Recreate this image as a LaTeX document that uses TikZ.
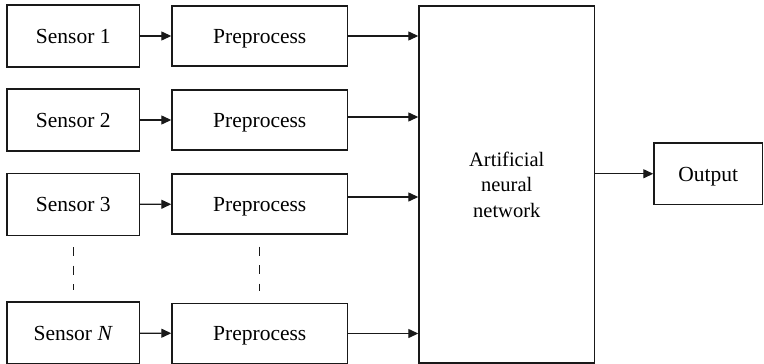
\documentclass[tikz,border=0pt]{standalone}
\usepackage{fontspec}
\setmainfont{Liberation Serif}
\usetikzlibrary{arrows.meta,calc}
\tikzset{
  box/.style={draw=black!90, line width=1.4pt, fill=white, inner sep=0pt,
    font=\fontsize{21.5}{25}\selectfont, align=center},
  oneline/.style={box, text height=14.5pt, text depth=0pt},
  sensorbox/.style={oneline, minimum width=132.5pt, minimum height=62pt},
  prebox/.style={oneline, minimum width=175.5pt, minimum height=60pt},
  link/.style={draw=black!90, line width=1.3pt, -{Triangle[length=10pt,width=9pt]}},
  dots/.style={draw=black!90, line width=1.3pt, dash pattern=on 9pt off 9.5pt}
}
\begin{document}
\begin{tikzpicture}[x=1pt,y=-1pt]
\useasboundingbox (0,0) rectangle (764,364);

% sensors
\node[sensorbox] (s1) at (73.25,36) {Sensor 1};
\node[sensorbox] (s2) at (73.25,120) {Sensor 2};
\node[sensorbox] (s3) at (73.25,204.5) {Sensor 3};
\node[sensorbox] (sn) at (73.25,333) {Sensor \textit{N}};

% preprocessing stages
\node[prebox] (p1) at (259.75,36) {Preprocess};
\node[prebox] (p2) at (259.75,120) {Preprocess};
\node[prebox] (p3) at (259.75,204) {Preprocess};
\node[prebox] (pn) at (259.75,333.5) {Preprocess};

% network and output
\node[box, minimum width=175.5pt, minimum height=357pt, font=\fontsize{20.5}{25.5}\selectfont] (ann) at (506.75,184.5) {Artificial\\neural\\network};
\node[oneline, minimum width=108.5pt, minimum height=61.5pt] (out) at (708.25,173.75) {Output};

% sensor to preprocess
\draw[link] (s1) -- (p1);
\draw[link] (s2) -- (p2);
\draw[link] (s3) -- (p3);
\draw[link] (sn) -- (pn);

% preprocess to network
\draw[link] (p1.east) -- (p1.east -| ann.west);
\draw[link] ([yshift=3pt]p2.east) -- ([yshift=3pt]p2.east -| ann.west);
\draw[link] ([yshift=7pt]p3.east) -- ([yshift=7pt]p3.east -| ann.west);
\draw[link] (pn.east) -- (pn.east -| ann.west);

% network to output
\draw[link] (out.west -| ann.east) -- (out.west);

% omitted rows
\coordinate (ds1) at ($(s3.south)+(0,11)$);
\coordinate (ds2) at ($(sn.north)+(0,-11)$);
\coordinate (dp1) at ($(p3.south)+(0,12)$);
\coordinate (dp2) at ($(pn.north)+(0,-12)$);
\draw[dots] (ds1) -- (ds2);
\draw[dots] (dp1) -- (dp2);
\end{tikzpicture}
\end{document}
